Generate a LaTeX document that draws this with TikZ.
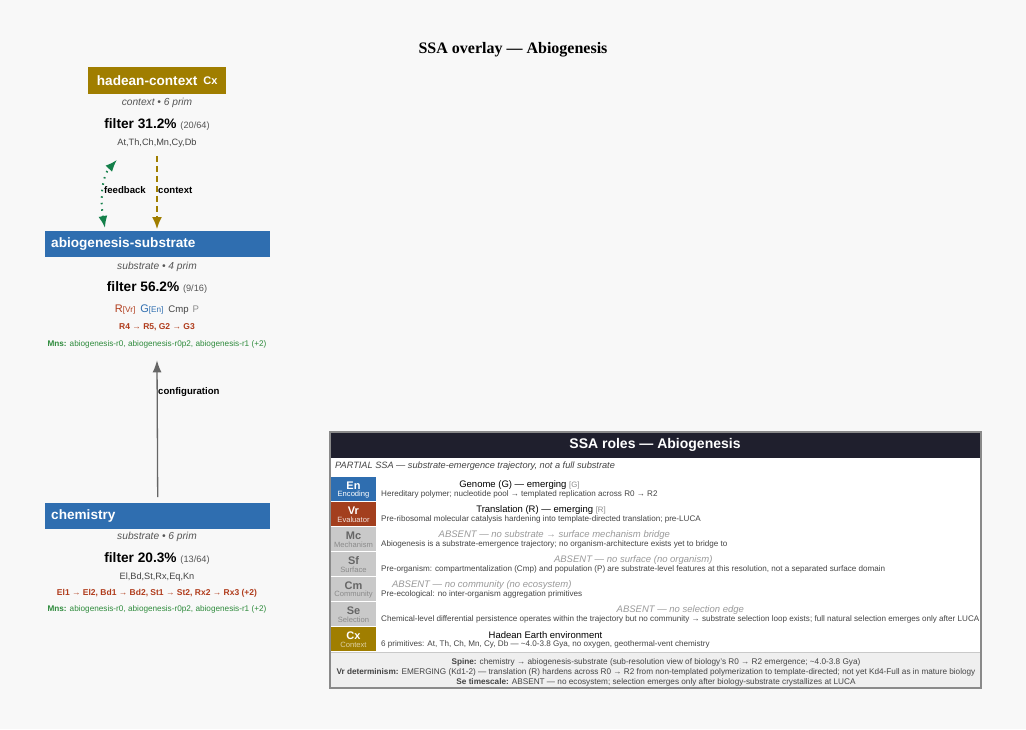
\documentclass[tikz,border=0pt]{standalone}
\usepackage{fontspec}
\setmainfont{Liberation Sans}
\newfontfamily\serifT{Liberation Serif}
\usetikzlibrary{arrows.meta,calc}
\definecolor{bgc}{HTML}{F8F8F8}
\definecolor{olivec}{HTML}{A07E00}
\definecolor{sblue}{HTML}{2F6EB0}
\definecolor{rbrown}{HTML}{A33F1E}
\definecolor{rtext}{HTML}{B03C1C}
\definecolor{gtext}{HTML}{2E8B3C}
\definecolor{farrow}{HTML}{14804A}
\definecolor{navy}{HTML}{1F1F2D}
\definecolor{cellgray}{HTML}{C9C9C9}
\definecolor{txtgray}{HTML}{555555}
\definecolor{dgray}{HTML}{444444}
\definecolor{lgray}{HTML}{8A8A8A}
\definecolor{absgray}{HTML}{9A9A9A}
\definecolor{footgray}{HTML}{EFEFEF}
\definecolor{arrgray}{HTML}{666666}
\newcommand\fsz[1]{\fontsize{#1}{#1}\selectfont}
\begin{document}
\begin{tikzpicture}[x=1pt,y=-1pt,
  stitle/.style={font=\serifT\bfseries\fsz{16}},
  hbox/.style={inner sep=0pt, text=white, font=\bfseries\fsz{13.6}},
  subt/.style={font=\itshape\fsz{10.2}, text=txtgray},
  filt/.style={font=\bfseries\fsz{13.7}},
  primsty/.style={font=\fsz{9.2}, text=dgray},
  deltas/.style={font=\bfseries\fsz{8.5}, text=rtext},
  mns/.style={font=\fsz{8.2}, text=gtext},
  elabel/.style={font=\bfseries\fsz{9.6}, anchor=west, inner sep=0pt},
  cellabbr/.style={font=\bfseries\fsz{11}},
  cellrole/.style={font=\fsz{7.6}},
  rtitle/.style={font=\fsz{9.5}, text=black},
  atitle/.style={font=\itshape\fsz{9.5}, text=absgray},
  rdesc/.style={font=\fsz{8.1}, text=dgray, anchor=west, inner sep=0pt},
  foot/.style={font=\fsz{8.2}, text=dgray, inner sep=0pt},
]
\fill[bgc] (0,0) rectangle (1026,729);
\useasboundingbox (0,0) rectangle (1026,729);

\node[stitle] (title) at (513,50) {SSA overlay — Abiogenesis};

% ---------- hadean-context ----------
\node[hbox, fill=olivec, minimum width=138pt, minimum height=27pt, anchor=north west] (hc) at (88,67)
  {hadean-context\hspace{6pt}\raisebox{1.5pt}{\fsz{11}Cx}};
\node[subt] (hcsub) at (157,103) {context • 6 prim};
\node[filt] (hcfilt) at (157,124) {filter 31.2\% {\mdseries\fsz{9.2}\color{txtgray}(20/64)}};
\node[primsty] (hcprim) at (157,143) {At,Th,Ch,Mn,Cy,Db};

% ---------- abiogenesis-substrate ----------
\node[hbox, fill=sblue, minimum height=26pt, text width=213pt, inner xsep=6pt, align=left, anchor=north west] (as) at (45,231)
  {abiogenesis-substrate};
\node[subt] (assub) at (157,267) {substrate • 4 prim};
\node[filt] (asfilt) at (157,287) {filter 56.2\% {\mdseries\fsz{9.2}\color{txtgray}(9/16)}};
\node[font=\fsz{11}] (asprim) at (157,310) {{\color{rtext}R{\fsz{8.2}[Vr]}}\hspace{5pt}{\color{sblue}G{\fsz{8.2}[En]}}\hspace{5pt}{\color{dgray}\fsz{9.6}Cmp}\hspace{4pt}{\color{lgray}\fsz{9.6}P}};
\node[deltas] (asdel) at (157,327) {R4 → R5, G2 → G3};
\node[mns] (asmns) at (157,344) {\textbf{Mns:} abiogenesis-r0, abiogenesis-r0p2, abiogenesis-r1 (+2)};

% ---------- chemistry ----------
\node[hbox, fill=sblue, minimum height=26pt, text width=213pt, inner xsep=6pt, align=left, anchor=north west] (ch) at (45,503)
  {chemistry};
\node[subt] (chsub) at (157,537) {substrate • 6 prim};
\node[filt] (chfilt) at (157,558) {filter 20.3\% {\mdseries\fsz{9.2}\color{txtgray}(13/64)}};
\node[primsty] (chprim) at (157,577) {El,Bd,St,Rx,Eq,Kn};
\node[deltas] (chdel) at (157,593) {El1 → El2, Bd1 → Bd2, St1 → St2, Rx2 → Rx3 (+2)};
\node[mns] (chmns) at (157,609) {\textbf{Mns:} abiogenesis-r0, abiogenesis-r0p2, abiogenesis-r1 (+2)};

% ---------- connectors ----------
\coordinate (fbB) at ($(as.north west)+(60,-3)$);
\coordinate (fbT) at ($(hcprim.south west)+(0,9)$);
\draw[farrow, line width=2pt, dash pattern=on 1.5pt off 5pt,
      {Latex[length=12pt,width=9pt]}-{Latex[length=12pt,width=9pt]}]
  (fbB) .. controls (100,200) and (102,176) .. (fbT -| 117,0);
\coordinate (ctT) at (hcprim.south);
\draw[olivec, line width=1.6pt, dash pattern=on 6pt off 4pt, -{Latex[length=12pt,width=10pt]}]
  ($(ctT)+(0,5)$) -- ($(as.north -| ctT)+(0,-2)$);
\node[elabel] (fblab) at (104,190) {feedback};
\node[elabel] (ctlab) at (158,190) {context};

\draw[arrgray, line width=1.3pt, -{Latex[length=12pt,width=9pt]}]
  ($(ch.north)+(0,-6)$) -- ($(asmns.south)+(0,9)$);
\node[elabel] (cfglab) at (158,392) {configuration};

% ---------- SSA roles table ----------
\draw[draw=lgray, line width=1.5pt, fill=white] (330,432) rectangle (981,688);
\fill[navy] (331,433) rectangle (980,457.5);
\node[font=\bfseries\fsz{14}, text=white] (ttitle) at (655,445) {SSA roles — Abiogenesis};
\node[font=\itshape\fsz{9.2}, text=dgray, anchor=west, inner sep=0pt] (partial) at (335,466)
  {PARTIAL SSA — substrate-emergence trajectory, not a full substrate};

% cells
\foreach \top/\fc/\tc/\ab/\rl/\rc in {
  477/sblue/white/En/Encoding/white,
  502/rbrown/white/Vr/Evaluator/white!85!rbrown,
  527/cellgray/arrgray/Mc/Mechanism/lgray,
  552/cellgray/arrgray/Sf/Surface/lgray,
  577/cellgray/arrgray/Cm/Community/lgray,
  602/cellgray/arrgray/Se/Selection/lgray,
  627/olivec/white/Cx/Context/olivec!35!white}{
  \fill[\fc] (331,\top) rectangle (376,\top+24.2);
  \node[cellabbr, text=\tc] (ab\ab) at (353.5,\top+8.5) {\ab};
  \node[cellrole, text=\rc] (rl\ab) at (353.5,\top+18) {\rl};
}

% row texts
\node[rdesc] (dEn) at (381,494) {Hereditary polymer; nucleotide pool → templated replication across R0 → R2};
\node[rtitle] (tEn) at ($(dEn.center)+(0,-9)$) {Genome (G) — emerging {\fsz{7.8}\color{lgray}[G]}};
\node[rdesc] (dVr) at (381,519) {Pre-ribosomal molecular catalysis hardening into template-directed translation; pre-LUCA};
\node[rtitle] (tVr) at ($(dVr.center)+(0,-9)$) {Translation (R) — emerging {\fsz{7.8}\color{lgray}[R]}};
\node[rdesc] (dMc) at (381,544) {Abiogenesis is a substrate-emergence trajectory; no organism-architecture exists yet to bridge to};
\node[atitle] (tMc) at ($(dMc.center)+(0,-9)$) {ABSENT — no substrate → surface mechanism bridge};
\node[rdesc] (dSf) at (381,569) {Pre-organism: compartmentalization (Cmp) and population (P) are substrate-level features at this resolution, not a separated surface domain};
\node[atitle] (tSf) at ($(dSf.center)+(0,-9)$) {ABSENT — no surface (no organism)};
\node[rdesc] (dCm) at (381,594) {Pre-ecological: no inter-organism aggregation primitives};
\node[atitle] (tCm) at ($(dCm.center)+(0,-9)$) {ABSENT — no community (no ecosystem)};
\node[rdesc] (dSe) at (381,619) {Chemical-level differential persistence operates within the trajectory but no community → substrate selection loop exists; full natural selection emerges only after LUCA};
\node[atitle] (tSe) at ($(dSe.center)+(0,-9)$) {ABSENT — no selection edge};
\node[rdesc] (dCx) at (381,644) {6 primitives: At, Th, Ch, Mn, Cy, Db — \textasciitilde 4.0-3.8 Gya, no oxygen, geothermal-vent chemistry};
\node[rtitle] (tCx) at ($(dCx.center)+(0,-9)$) {Hadean Earth environment};

% footer
\fill[footgray] (331,652.5) rectangle (980,687);
\draw[cellgray, line width=0.6pt] (331,652.5) -- (980,652.5);
\node[foot] (f1) at (656,662) {\textbf{Spine:} chemistry → abiogenesis-substrate (sub-resolution view of biology's R0 → R2 emergence; \textasciitilde 4.0-3.8 Gya)};
\node[foot] (f2) at (656,672) {\textbf{Vr determinism:} EMERGING (Kd1-2) — translation (R) hardens across R0 → R2 from non-templated polymerization to template-directed; not yet Kd4-Full as in mature biology};
\node[foot] (f3) at (656,682) {\textbf{Se timescale:} ABSENT — no ecosystem; selection emerges only after biology-substrate crystallizes at LUCA};
\end{tikzpicture}
\end{document}
